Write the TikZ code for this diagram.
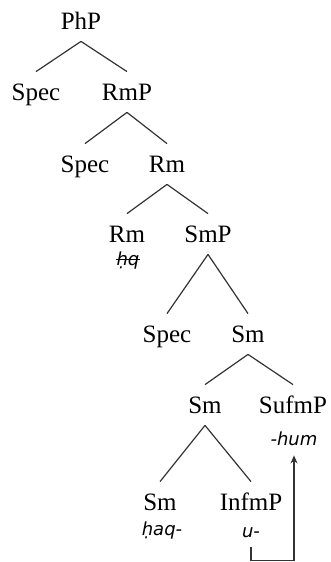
\documentclass[tikz,border=0pt]{standalone}
\usepackage{fontspec}
\setmainfont{Liberation Serif}
\newfontfamily\glossfont{DejaVu Sans}
\usetikzlibrary{arrows.meta}

\tikzset{
  cat/.style={anchor=base, inner sep=0pt, text height=14pt, text depth=6pt,
    font=\fontsize{12.5}{15}\selectfont},
  gloss/.style={anchor=base, inner sep=0pt, text height=7pt, text depth=5pt,
    font=\glossfont\itshape\fontsize{9}{11}\selectfont},
  branch/.style={draw=black!80, line width=0.6pt},
}

\begin{document}
\begin{tikzpicture}[x=0.5pt, y=-0.5pt]
  \useasboundingbox (0,0) rectangle (331,562);
  \node[cat] (PhP) at (81,29) {PhP};
  \node[cat] (SpecPh) at (36,100) {Spec};
  \node[cat] (RmP) at (127,100) {RmP};
  \node[cat] (SpecRm) at (85,172) {Spec};
  \node[cat] (Rmbar) at (167,172) {Rm};
  \node[cat] (Rm) at (127,242) {Rm};
  \node[gloss] (hq) at (128,265) {ḥq};
  \node[cat] (SmP) at (208,242) {SmP};
  \node[cat] (SpecSm) at (167,342) {Spec};
  \node[cat] (Smbar) at (248,342) {Sm};
  \node[cat] (Sm) at (205,413) {Sm};
  \node[cat] (SufmP) at (293,413) {SufmP};
  \node[gloss] (hum) at (294,445) {-hum};
  \node[cat] (Smhead) at (160,510) {Sm};
  \node[gloss] (haq) at (162,535) {ḥaq-};
  \node[cat] (InfmP) at (251,510) {InfmP};
  \node[gloss] (u) at (251,537) {u-};
  % struck-out copy of the root
  \draw[line width=0.5pt] ([yshift=1.6pt]hq.west) -- ([yshift=1.6pt]hq.east);
  \draw[branch] (PhP.south)--(SpecPh.north);
  \draw[branch] (PhP.south)--(RmP.north);
  \draw[branch] (RmP.south)--(SpecRm.north);
  \draw[branch] (RmP.south)--(Rmbar.north);
  \draw[branch] (Rmbar.south)--(Rm.north);
  \draw[branch] (Rmbar.south)--(SmP.north);
  \draw[branch] (SmP.south)--(SpecSm.north);
  \draw[branch] (SmP.south)--(Smbar.north);
  \draw[branch] (Smbar.south)--(Sm.north);
  \draw[branch] (Smbar.south)--(SufmP.north);
  \draw[branch] (Sm.south)--(Smhead.north);
  \draw[branch] (Sm.south)--(InfmP.north);
  % head movement of the infix
  \draw[branch, -{Stealth[length=4pt,width=3.5pt]}] (u.south) -- ++(0,13) -| (hum.south);
\end{tikzpicture}
\end{document}
